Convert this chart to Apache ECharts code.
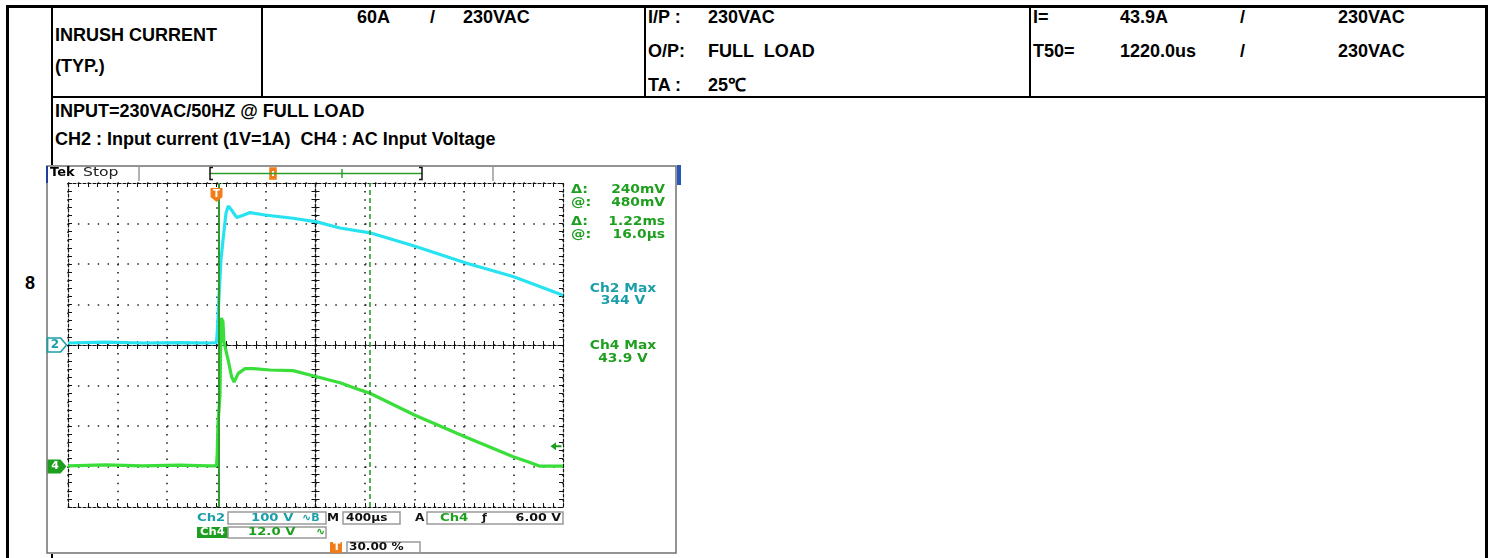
<!DOCTYPE html>
<html>
<head>
<meta charset="utf-8">
<script src="https://cdn.jsdelivr.net/npm/echarts/dist/echarts.min.js"></script>
<style>
html,body{margin:0;padding:0;}
body{width:1496px;height:558px;overflow:hidden;background:#fff;position:relative;}
.ln{position:absolute;background:#000;}
.tx{position:absolute;font:bold 18px "Liberation Sans",Arial,sans-serif;color:#000;white-space:pre;line-height:20px;height:20px;margin-top:-10px;}
#scope{position:absolute;left:46px;top:165px;width:631px;height:389px;}
#blue{position:absolute;left:677px;top:165px;width:4px;height:20px;background:#2a55b8;}
</style>
</head>
<body>
<!-- table rules -->
<div class="ln" style="left:6px;top:5px;width:1482px;height:3px"></div>
<div class="ln" style="left:52px;top:96px;width:1436px;height:2px"></div>
<div class="ln" style="left:6px;top:5px;width:3px;height:553px"></div>
<div class="ln" style="left:51px;top:5px;width:2px;height:553px"></div>
<div class="ln" style="left:261px;top:5px;width:2px;height:92px"></div>
<div class="ln" style="left:644px;top:5px;width:2px;height:92px"></div>
<div class="ln" style="left:1029px;top:5px;width:2px;height:92px"></div>
<div class="ln" style="left:1485px;top:5px;width:3px;height:553px"></div>

<div class="tx" style="left:55px;top:35px">INRUSH CURRENT</div>
<div class="tx" style="left:55px;top:66px">(TYP.)</div>
<div class="tx" style="left:357px;top:17px">60A</div>
<div class="tx" style="left:430px;top:17px">/</div>
<div class="tx" style="left:463px;top:17px">230VAC</div>
<div class="tx" style="left:648px;top:17px">I/P :</div>
<div class="tx" style="left:708px;top:17px">230VAC</div>
<div class="tx" style="left:648px;top:51px">O/P:</div>
<div class="tx" style="left:708px;top:51px">FULL  LOAD</div>
<div class="tx" style="left:648px;top:85px">TA :</div>
<div class="tx" style="left:708px;top:85px">25℃</div>
<div class="tx" style="left:1033px;top:17px">I=</div>
<div class="tx" style="left:1120px;top:17px">43.9A</div>
<div class="tx" style="left:1240px;top:17px">/</div>
<div class="tx" style="left:1338px;top:17px">230VAC</div>
<div class="tx" style="left:1033px;top:51px">T50=</div>
<div class="tx" style="left:1120px;top:51px">1220.0us</div>
<div class="tx" style="left:1240px;top:51px">/</div>
<div class="tx" style="left:1338px;top:51px">230VAC</div>
<div class="tx" style="left:55px;top:111px">INPUT=230VAC/50HZ @ FULL LOAD</div>
<div class="tx" style="left:55px;top:139px">CH2 : Input current (1V=1A)  CH4 : AC Input Voltage</div>
<div class="tx" style="left:25px;top:283px">8</div>

<div id="blue"></div>
<div id="scope"></div>

<script>
// ---- data read from the oscilloscope capture ----
const ch2TimeUs = [-1200, -900, -600, -300, -60, 0, 8, 20, 36, 60, 77, 95, 120, 163, 210, 271, 392, 618, 810, 998, 1240, 1604, 2022, 2396, 2800];
const ch2Volts  = [5, 7, 5, 6, 5, 6, 40, 119, 210, 280, 326, 343, 334, 315, 320, 327, 321, 313, 304, 289, 277, 244, 202, 169, 123];
const ch4TimeUs = [-1200, -900, -600, -300, -60, 0, 6, 12, 28, 34, 38, 52, 60, 70, 95, 122, 142, 176, 230, 300, 432, 618, 810, 998, 1160, 1240, 1604, 2008, 2398, 2533, 2613, 2800];
const ch4Volts  = [0.2, 0.5, 0.2, 0.4, 0.2, 0.2, 4, 12.8, 21, 36, 44, 43, 37, 35.4, 31.4, 26.6, 25, 27.6, 29, 29, 28.6, 28.4, 26.6, 24.8, 22.7, 21.7, 15.2, 8.8, 2.9, 1.2, 0.1, 0.1];
const timeRangeUs = [-1200, 2800];   // 400 us / div, trigger at 30 %
const timeStepUs = 400;
const ch2RangeV = [-400, 400];       // 100 V / div
const ch2StepV = 100;
const ch4RangeV = [-12, 84];         // 12 V / div, ground 3 div below centre
const ch4StepV = 12;
const cursorTimesUs = [16, 1236];
const triggerLevelV = 6;
const cursorReadout = [['Δ:', '240mV'], ['@:', '480mV'], ['Δ:', '1.22ms'], ['@:', '16.0µs']];
const maxReadout = [['Ch2 Max', '344 V'], ['Ch4 Max', '43.9 V']];

const CYAN = '#27e3f2', LIME = '#3ade3a', TEAL = '#1a9fa8', GREEN = '#1f9f1f', ORANGE = '#f07d1a';
const FONT = '"DejaVu Sans", sans-serif';

function zip(a, b) { return a.map((v, i) => [v, b[i]]); }

const tickLine = {color: '#111', width: 1};
function borderAxis(pos, min, max, step, split, splitDash) {
  return {
    type: 'value', position: pos, min: min, max: max, interval: step,
    axisLine: {show: true, onZero: false, lineStyle: {color: '#111', width: 1.2, type: [3, 2]}},
    axisTick: {show: true, inside: true, length: 4, lineStyle: tickLine},
    minorTick: {show: true, splitNumber: 5, length: 4, lineStyle: tickLine},
    splitLine: {show: split, lineStyle: {color: '#222', width: 1.6, type: splitDash || [1.5, 8]}},
    axisLabel: {show: false}
  };
}
function centreAxis(pos, min, max, step, zeroIdx) {
  return {
    type: 'value', position: pos, min: min, max: max, interval: step,
    axisLine: {show: true, onZero: true, onZeroAxisIndex: zeroIdx, lineStyle: {color: '#111', width: 1.2, type: [3, 2]}},
    axisTick: {show: true, inside: true, length: 4, lineStyle: tickLine},
    minorTick: {show: true, splitNumber: 5, length: 4, lineStyle: tickLine},
    splitLine: {show: false},
    axisLabel: {show: false}
  };
}

const xAxes = [
  borderAxis('bottom', timeRangeUs[0], timeRangeUs[1], timeStepUs, true, [1.5, 6.6]),
  borderAxis('top', timeRangeUs[0], timeRangeUs[1], timeStepUs, false),
  centreAxis('bottom', timeRangeUs[0], timeRangeUs[1], timeStepUs, 0),
  centreAxis('top', timeRangeUs[0], timeRangeUs[1], timeStepUs, 0),
  {type: 'value', show: false, min: -5, max: 5}
];
const yAxes = [
  borderAxis('left', ch2RangeV[0], ch2RangeV[1], ch2StepV, true, [1.5, 8.4]),
  borderAxis('right', ch4RangeV[0], ch4RangeV[1], ch4StepV, false),
  centreAxis('left', -4, 4, 1, 4),
  centreAxis('right', -4, 4, 1, 4)
];

function txt(x, y, s, color, o) {
  o = o || {};
  return {
    type: 'text', x: x, y: y, scaleX: o.sx || 1.2, silent: true, z: 10,
    style: {text: s, fill: color, font: (o.w || 'bold') + ' ' + (o.fs || 11) + 'px ' + FONT,
      align: o.align || 'left', textAlign: o.align || 'left', verticalAlign: 'middle', textVerticalAlign: 'middle'}
  };
}
function box(x, y, w, h, stroke, fill) {
  return {type: 'rect', silent: true, z: 5, shape: {x: x, y: y, width: w, height: h},
    style: {fill: fill || 'none', stroke: stroke || 'none', lineWidth: 1.5}};
}
function seg(x1, y1, x2, y2, color, w) {
  return {type: 'line', silent: true, z: 6, shape: {x1: x1, y1: y1, x2: x2, y2: y2}, style: {stroke: color, lineWidth: w || 1.5}};
}

const graphics = [
  box(1, 1, 629, 387, '#707070'),
  box(0, 1, 2, 17, null, '#1d3f9a'),
  txt(4, 8, 'Tek', '#000', {fs: 13, sx: 1}),
  txt(37, 8, 'Stop', '#222', {fs: 12, w: 'normal', sx: 1.3}),
  seg(93, 2, 93, 16, '#9a9a9a', 1.5),
  seg(447, 2, 447, 16, '#9a9a9a', 1.5),
  seg(164, 8.5, 376, 8.5, '#2e9e2e', 1.5),
  {type: 'polyline', silent: true, z: 6, shape: {points: [[167, 2.5], [164, 2.5], [164, 14.5], [167, 14.5]]}, style: {stroke: '#111', fill: 'none', lineWidth: 1.5}},
  {type: 'polyline', silent: true, z: 6, shape: {points: [[373, 2.5], [376, 2.5], [376, 14.5], [373, 14.5]]}, style: {stroke: '#111', fill: 'none', lineWidth: 1.5}},
  box(224, 3, 6, 11, ORANGE, ORANGE),
  box(226, 6, 2, 5, null, '#fff'),
  seg(296, 4, 296, 13, '#2e9e2e', 1.5),
  // footer row 1
  txt(151, 353, 'Ch2', TEAL),
  box(182, 347, 98, 12, '#9a9a9a'),
  txt(205, 353, '100 V', TEAL),
  txt(256, 353, '∿B', TEAL, {sx: 1}),
  txt(281, 353, 'M', '#111', {sx: 1.1}),
  box(297, 347, 57, 12, '#9a9a9a'),
  txt(300, 353, '400µs', '#111', {sx: 1.1}),
  txt(369, 353, 'A', '#111', {sx: 1.1}),
  box(381, 347, 136, 12, '#9a9a9a'),
  txt(394, 353, 'Ch4', GREEN),
  txt(436, 353, 'ƒ', '#111', {sx: 1}),
  txt(515, 353, '6.00 V', '#111', {align: 'right', sx: 1.15}),
  // footer row 2
  box(151, 362, 31, 11, null, '#1e9e1e'),
  txt(154, 367.5, 'Ch4', '#fff', {sx: 1.05}),
  box(182, 362, 98, 11, '#9a9a9a'),
  txt(202, 367.5, '12.0 V', GREEN),
  txt(270, 367.5, '∿', GREEN, {sx: 1}),
  // footer row 3
  box(284, 377, 12, 11, null, ORANGE),
  txt(287, 382.5, 'T', '#fff', {sx: 1}),
  box(301, 377, 73, 11, '#9a9a9a'),
  txt(303, 382.5, '30.00 %', '#111', {sx: 1.1})
];
const readY = [24.5, 37.5, 57, 69.5];
cursorReadout.forEach((r, i) => {
  graphics.push(txt(525, readY[i], r[0], GREEN, {fs: 12}));
  graphics.push(txt(619, readY[i], r[1], GREEN, {align: 'right', sx: 1.15, fs: 12}));
});
const maxY = [[123.5, 136], [181, 193.5]];
maxReadout.forEach((r, i) => {
  const c = i === 0 ? TEAL : GREEN;
  graphics.push(txt(577, maxY[i][0], r[0], c, {align: 'center', sx: 1.15, fs: 12}));
  graphics.push(txt(577, maxY[i][1], r[1], c, {align: 'center', sx: 1.15, fs: 12}));
});

const chart = echarts.init(document.getElementById('scope'), null, {renderer: 'canvas'});
chart.setOption({
  animation: false,
  backgroundColor: '#fff',
  grid: {left: 22, top: 18, width: 495, height: 324},
  xAxis: xAxes,
  yAxis: yAxes,
  graphic: graphics,
  series: [
    {
      name: 'Ch2', type: 'line', xAxisIndex: 0, yAxisIndex: 0, data: zip(ch2TimeUs, ch2Volts),
      showSymbol: false, symbol: 'none', lineStyle: {color: CYAN, width: 3.2}, z: 3,
      markPoint: {
        silent: true, animation: false,
        data: [
          {coord: [timeRangeUs[0], 0], symbol: 'path://M0,0 L13,0 L19,7 L13,14 L0,14 Z', symbolSize: [19, 14], symbolOffset: [-11, 0],
           itemStyle: {color: '#fff', borderColor: TEAL, borderWidth: 1.5},
           label: {show: true, formatter: '2', color: TEAL, fontWeight: 'bold', fontSize: 12, fontFamily: FONT, offset: [-2, 0]}},
          {coord: [0, ch2RangeV[1]], symbol: 'path://M0,0 L12,0 L12,9 L6,14 L0,9 Z', symbolSize: [12, 14], symbolOffset: [0, 12],
           itemStyle: {color: ORANGE},
           label: {show: true, formatter: 'T', color: '#fff', fontWeight: 'bold', fontSize: 10, fontFamily: FONT, offset: [0, -1]}}
        ]
      }
    },
    {
      name: 'Ch4', type: 'line', xAxisIndex: 0, yAxisIndex: 1, data: zip(ch4TimeUs, ch4Volts),
      showSymbol: false, symbol: 'none', lineStyle: {color: LIME, width: 3.2}, z: 4,
      markLine: {
        silent: true, animation: false, symbol: ['none', 'none'], label: {show: false},
        data: [
          {xAxis: cursorTimesUs[0], lineStyle: {color: '#2e9e2e', width: 2, type: 'solid'}},
          {xAxis: cursorTimesUs[1], lineStyle: {color: '#2e9e2e', width: 1.6, type: [5, 3]}}
        ]
      },
      markPoint: {
        silent: true, animation: false,
        data: [
          {coord: [timeRangeUs[0], 0], symbol: 'path://M0,0 L13,0 L19,7 L13,14 L0,14 Z', symbolSize: [19, 14], symbolOffset: [-11, 0],
           itemStyle: {color: '#1e9e1e'},
           label: {show: true, formatter: '4', color: '#fff', fontWeight: 'bold', fontSize: 11, fontFamily: FONT, offset: [-2, 0]}},
          {coord: [timeRangeUs[1], triggerLevelV], symbol: 'path://M0,4 L6,0 L6,3 L12,3 L12,5 L6,5 L6,8 Z', symbolSize: [11, 8], symbolOffset: [-7, 0],
           itemStyle: {color: '#1e9e1e'}, label: {show: false}}
        ]
      }
    }
  ]
});
</script>
</body>
</html>
